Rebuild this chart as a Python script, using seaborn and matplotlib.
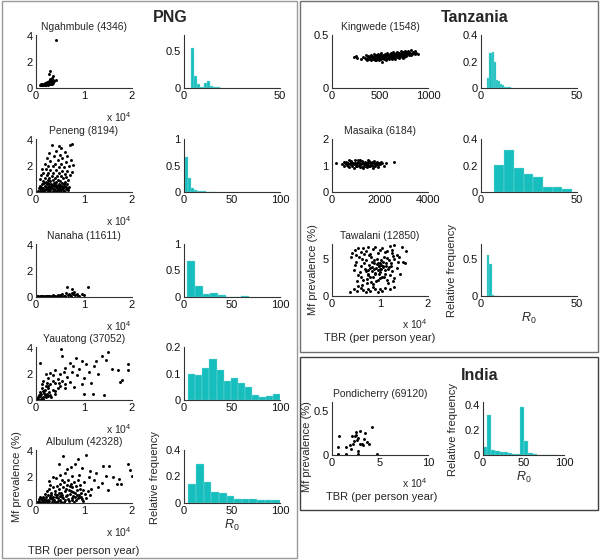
import numpy as np
import pandas as pd
import matplotlib
matplotlib.use("Agg")
import matplotlib.pyplot as plt
import seaborn as sns
from matplotlib.patches import Rectangle
from matplotlib.ticker import FuncFormatter

# ---------------- data ----------------
# scatter points: (TBR, Mf prevalence %) ; TBR in units of 1e4 unless noted
ngahmbule_pts = [(0.42,3.72),(0.30,1.30),(0.27,1.05),(0.36,0.95),(0.41,0.62),(0.33,0.78),(0.29,0.70),(0.35,0.60),(0.38,0.55),
    (0.08,0.25),(0.10,0.28),(0.12,0.26),(0.13,0.30),(0.15,0.27),(0.16,0.32),(0.17,0.29),(0.18,0.35),(0.19,0.30),(0.20,0.33),
    (0.21,0.28),(0.22,0.38),(0.23,0.31),(0.24,0.40),(0.25,0.35),(0.26,0.45),(0.27,0.38),(0.28,0.50),(0.29,0.42),(0.30,0.55),
    (0.31,0.40),(0.32,0.48),(0.33,0.36),(0.34,0.52),(0.24,0.30),(0.26,0.29),(0.28,0.33),(0.30,0.30),(0.32,0.33),(0.11,0.22),
    (0.14,0.24),(0.18,0.25),(0.21,0.24),(0.25,0.27),(0.29,0.60),(0.31,0.65),(0.27,0.58),(0.36,0.42),(0.34,0.30),(0.20,0.40),(0.23,0.45)]

peneng_pts = [(0.33,3.6),(0.47,3.55),(0.52,3.4),(0.76,3.75),(0.70,3.6),(0.42,3.2),(0.60,3.1),(0.28,3.0),(0.50,2.9),(0.65,2.8),
    (0.38,2.75),(0.22,2.6),(0.55,2.6),(0.45,2.5),(0.72,2.5),(0.30,2.4),(0.62,2.35),(0.18,2.2),(0.40,2.2),(0.52,2.15),(0.78,2.1),
    (0.25,2.05),(0.68,2.0),(0.35,2.0),(0.47,1.95),(0.58,1.9),
    (0.12,1.8),(0.20,1.75),(0.30,1.7),(0.42,1.7),(0.55,1.65),(0.65,1.6),(0.75,1.55),(0.15,1.5),(0.26,1.5),(0.36,1.45),(0.48,1.45),
    (0.60,1.4),(0.70,1.35),(0.10,1.3),(0.22,1.3),(0.33,1.25),(0.44,1.25),(0.52,1.2),(0.63,1.15),(0.18,1.1),(0.28,1.1),(0.39,1.05),
    (0.57,1.05),(0.08,1.0),(0.24,0.95),(0.35,0.95),(0.46,0.9),(0.66,0.9),(0.14,0.85),(0.30,0.85),(0.50,0.85),(0.41,0.8),(0.20,0.8),(0.60,0.78),
    (0.05,0.05),(0.08,0.1),(0.10,0.2),(0.12,0.05),(0.14,0.3),(0.16,0.12),(0.18,0.45),(0.20,0.2),(0.22,0.6),(0.24,0.08),(0.26,0.35),
    (0.28,0.5),(0.30,0.15),(0.32,0.65),(0.34,0.28),(0.36,0.05),(0.38,0.45),(0.40,0.18),(0.42,0.55),(0.44,0.3),(0.46,0.1),(0.48,0.62),
    (0.50,0.4),(0.52,0.2),(0.54,0.7),(0.56,0.35),(0.58,0.08),(0.60,0.5),(0.62,0.25),(0.64,0.6),(0.66,0.12),(0.68,0.4),(0.11,0.4),
    (0.13,0.6),(0.17,0.7),(0.19,0.02),(0.21,0.38),(0.23,0.25),(0.25,0.72),(0.27,0.15),(0.29,0.3),(0.31,0.45),(0.33,0.02),(0.35,0.55),
    (0.37,0.22),(0.39,0.68),(0.41,0.35),(0.43,0.05),(0.45,0.45),(0.47,0.25),(0.49,0.02),(0.51,0.58),(0.53,0.12),(0.55,0.48),(0.57,0.28),
    (0.59,0.65),(0.61,0.02),(0.63,0.38),(0.07,0.3),(0.09,0.5),(0.15,0.02),(0.27,0.6),(0.37,0.7),(0.47,0.45),(0.57,0.15),(0.67,0.3)]

nanaha_pts = [(0.02,0.05),(0.05,0.08),(0.08,0.04),(0.1,0.06),(0.13,0.1),(0.15,0.05),(0.18,0.07),(0.2,0.04),(0.23,0.09),(0.25,0.06),
    (0.28,0.05),(0.3,0.1),(0.33,0.07),(0.35,0.12),(0.38,0.05),(0.4,0.08),(0.43,0.06),(0.45,0.15),(0.48,0.07),(0.5,0.12),(0.53,0.05),
    (0.55,0.2),(0.58,0.08),(0.6,0.1),(0.62,0.3),(0.65,0.75),(0.66,0.15),(0.7,0.15),(0.72,0.1),(0.75,0.65),(0.78,0.2),(0.8,0.35),
    (0.82,0.12),(0.85,0.25),(0.88,0.1),(0.9,0.1),(0.95,0.2),(1.0,0.15),(1.08,0.75),(0.68,0.2),(0.74,0.3),(0.12,0.03),(0.03,0.03)]

yauatong_pts = [(0.08,2.85),(0.53,3.95),(0.55,3.4),(0.83,3.25),(0.95,3.0),(1.26,3.0),(1.37,3.4),(1.49,3.7),(1.46,3.1),(1.92,2.8),
    (1.92,2.3),(1.58,2.4),(1.70,2.35),(1.79,1.55),(1.2,2.6),(1.05,2.8),(0.7,2.9),(0.4,2.3),(0.6,2.5),(0.75,2.2),(0.9,2.4),(1.1,2.2),
    (1.3,2.0),(0.3,2.1),(0.2,2.0),(0.35,1.9),(0.5,2.0),(0.65,1.8),(0.85,1.9),(1.0,1.7),(0.25,1.7),(0.45,1.6),(0.55,1.5),(0.15,1.5),
    (0.4,1.3),(0.7,1.4),(0.95,1.2),(1.15,1.3),(0.3,1.2),(0.2,1.1),(0.5,1.1),(0.6,0.9),(0.35,0.8),(0.15,0.7),(0.25,0.9),(0.1,0.5),
    (0.18,0.4),(0.28,0.6),(0.4,0.5),(0.05,0.2),(0.08,0.3),(0.12,0.15),(0.15,0.25),(0.2,0.2),(0.22,0.5),(0.1,0.05),(0.05,0.05),
    (0.14,0.1),(0.25,0.3),(0.3,0.4),(0.18,0.8),(0.12,0.9),(0.06,0.4),(0.99,0.47),(1.18,0.47),(1.42,0.42),(1.75,1.4),(0.8,1.0),
    (0.45,0.95),(0.35,1.5),(0.22,1.3),(0.6,1.25),(0.09,0.6),(0.03,0.1),(0.16,0.55),(0.26,1.05),(0.32,0.25),(0.4,0.7),(0.48,1.35),
    (0.58,2.2),(0.78,2.6),(0.13,1.2)]

albulum_pts = [(0.57,3.6),(0.88,3.4),(1.04,3.7),(0.81,3.0),(1.40,2.85),(1.53,2.85),(1.92,3.0),(1.96,2.55),(2.0,2.1),(1.72,1.87),
    (1.69,1.47),(1.78,1.47),(1.37,1.52),(0.47,3.0),(0.65,2.6),(0.72,2.8),(0.95,2.7),(1.12,2.5),(1.25,2.3),(1.45,2.1),(1.6,2.0),
    (1.2,1.8),(1.1,2.0),(0.5,2.2),(0.6,2.3),(0.35,2.0),(0.42,1.9),(0.55,1.8),(0.75,2.1),(0.9,2.2),(1.0,1.6),(1.3,1.2),(1.5,1.0),
    (1.15,1.1),(0.98,1.0),(0.28,1.7),(0.3,1.4),
    (0.05,0.05),(0.08,0.1),(0.1,0.02),(0.12,0.2),(0.14,0.08),(0.16,0.3),(0.18,0.12),(0.2,0.45),(0.22,0.05),(0.24,0.25),(0.26,0.6),
    (0.28,0.15),(0.3,0.35),(0.32,0.8),(0.34,0.05),(0.36,0.5),(0.38,0.25),(0.4,0.9),(0.42,0.1),(0.44,0.6),(0.46,0.35),(0.48,1.1),
    (0.5,0.2),(0.52,0.75),(0.54,0.45),(0.56,1.25),(0.58,0.1),(0.6,0.9),(0.62,0.55),(0.64,1.4),(0.66,0.3),(0.68,1.0),(0.7,0.7),
    (0.72,1.5),(0.74,0.4),(0.76,1.2),(0.78,0.85),(0.8,1.6),(0.82,0.5),(0.84,1.3),(0.86,1.0),(0.88,1.75),(0.9,0.6),(0.92,1.4),
    (0.94,0.8),(0.96,0.3),(0.98,0.15),(0.15,0.5),(0.19,0.7),(0.23,0.9),(0.27,1.1),(0.31,0.6),(0.35,1.2),(0.39,0.7),(0.43,1.35),
    (0.47,0.8),(0.51,1.5),(0.55,0.6),(0.59,1.6),(0.63,1.1),(0.67,1.8),(0.71,1.3),(0.75,0.2),(0.79,0.1),(0.83,0.25),(0.87,0.35),
    (0.91,1.1),(0.11,0.35),(0.13,0.02),(0.17,0.05),(0.21,0.25),(0.25,0.08),(0.29,0.5),(0.33,0.3),(0.37,0.05),(0.41,0.45),(0.45,0.15),
    (0.49,0.55),(0.53,0.05),(0.57,0.35),(0.61,0.2),(0.65,0.65),(0.69,0.15),(0.73,0.95),(0.77,0.55),(0.81,0.75),(0.85,0.6),(0.89,0.45),
    (0.93,0.5),(1.02,0.7),(1.05,0.4),(1.08,0.9),(1.12,0.6),(0.06,0.3),(0.09,0.45),(0.07,0.15),(0.03,0.05)]

# Kingwede TBR in plain units
kingwede_pts = [(230,0.29),(245,0.30),(260,0.28),(300,0.27),(320,0.29),(340,0.28),(350,0.31),(360,0.26),(370,0.30),(380,0.28),
    (390,0.27),(395,0.30),(400,0.29),(405,0.26),(410,0.31),(415,0.28),(420,0.30),(425,0.27),(430,0.29),(435,0.32),(440,0.28),
    (445,0.26),(450,0.30),(455,0.29),(460,0.31),(465,0.27),(470,0.30),(475,0.28),(480,0.32),(485,0.26),(490,0.29),(495,0.31),
    (500,0.28),(505,0.30),(510,0.27),(515,0.33),(520,0.29),(525,0.25),(530,0.31),(535,0.28),(540,0.30),(545,0.27),(550,0.32),
    (555,0.29),(560,0.31),(565,0.26),(570,0.30),(575,0.33),(580,0.28),(585,0.31),(590,0.29),(595,0.27),(600,0.32),(605,0.30),
    (610,0.28),(615,0.33),(620,0.30),(625,0.27),(630,0.31),(635,0.29),(640,0.34),(645,0.28),(650,0.32),(655,0.30),(660,0.27),
    (665,0.33),(670,0.31),(675,0.29),(680,0.34),(685,0.30),(690,0.32),(695,0.28),(700,0.33),(705,0.31),(710,0.29),(715,0.35),
    (720,0.32),(725,0.30),(730,0.33),(735,0.28),(740,0.34),(745,0.31),(750,0.32),(755,0.29),(760,0.35),(765,0.33),(770,0.30),
    (775,0.34),(780,0.32),(790,0.35),(800,0.31),(810,0.33),(820,0.36),(830,0.32),(840,0.34),(850,0.33),(860,0.35),(880,0.33),
    (900,0.32),(420,0.285),(450,0.275),(480,0.295),(510,0.305),(540,0.285),(570,0.315),(600,0.295),(630,0.285),(660,0.315),
    (690,0.305),(720,0.31),(750,0.305),(780,0.33),(460,0.265),(500,0.315),(560,0.275),(620,0.32),(680,0.29),(740,0.3),(800,0.34),
    (380,0.295),(350,0.275),(820,0.31),(860,0.325)]

# Masaika TBR in plain units
masaika_pts = [(150,1.1),(420,1.05),(480,1.12),(520,0.98),(560,1.08),(600,1.15),(640,1.02),(680,1.1),(720,0.95),(760,1.06),
    (800,1.18),(840,1.0),(880,1.1),(920,1.04),(960,1.2),(1000,0.97),(1040,1.08),(1080,1.13),(1120,1.01),(1160,1.22),(1200,1.05),
    (1240,0.93),(1280,1.1),(1320,1.0),(1360,1.15),(1400,1.06),(1440,0.95),(1480,1.12),(1520,1.03),(1560,1.18),(1600,0.98),
    (1640,1.08),(1680,1.14),(1720,1.0),(1760,1.1),(1800,0.97),(1840,1.06),(1880,1.15),(1920,1.02),(1960,1.1),(2000,1.05),
    (2050,1.12),(2100,1.08),(2150,1.0),(2250,1.1),(2600,1.15),(700,1.2),(900,0.92),(1100,1.2),(1300,0.9),(1500,1.22),(1700,0.92),
    (650,1.0),(850,1.05),(1050,1.0),(1250,1.17),(1450,1.1),(1650,1.02),(1850,1.1),(950,1.1),(1150,0.96),(1350,1.05),(1550,1.0),
    (1750,1.17),(1900,0.95),(580,1.05),(780,1.12),(980,1.05),(1180,1.1),(1380,0.98),(1580,1.1),(1780,1.05)]

tawalani_pts = [(0.38,0.6),(0.45,1.0),(0.52,0.7),(0.6,1.1),(0.65,0.8),(0.7,0.5),(0.75,1.0),(0.8,0.7),(0.85,1.2),(0.9,0.9),
    (0.95,0.6),(1.0,1.0),(1.05,0.7),(1.1,1.1),(1.2,0.9),(1.3,1.2),(0.55,1.4),(0.42,5.8),(0.48,6.2),(0.5,5.5),(0.55,6.5),(0.6,5.9),
    (0.65,6.4),(0.7,6.0),(0.75,6.6),(0.8,5.7),(0.85,6.3),(0.9,6.6),(0.95,5.8),(1.0,6.2),(1.05,6.5),(1.1,5.9),(1.15,6.1),(1.2,6.7),
    (1.25,6.2),(1.3,6.8),(1.35,5.5),(1.45,6.6),(1.55,6.0),(1.48,4.6),(1.52,4.4),(1.4,5.2),(1.3,5.0),
    (0.45,3.5),(0.5,4.6),(0.55,2.8),(0.6,4.0),(0.62,5.0),(0.65,2.2),(0.68,3.6),(0.7,4.8),(0.72,1.8),(0.75,3.0),(0.77,4.2),
    (0.8,2.5),(0.82,5.2),(0.84,3.4),(0.86,1.6),(0.88,4.5),(0.9,2.9),(0.92,3.8),(0.94,5.0),(0.96,2.2),(0.98,4.1),(1.0,3.2),
    (1.02,4.8),(1.04,2.6),(1.06,3.9),(1.08,5.3),(1.1,3.0),(1.12,4.4),(1.14,2.1),(1.16,3.6),(1.18,4.9),(1.2,2.8),(1.22,4.0),
    (1.25,3.3),(1.28,5.4),(1.3,2.4),(1.35,3.8),(1.38,4.6),(1.42,3.0),(0.58,3.2),(0.66,4.4),(0.74,2.8),(0.78,5.5),(0.83,3.9),
    (0.87,4.9),(0.91,2.0),(0.95,4.4),(0.99,3.6),(1.03,4.2),(1.07,4.6),(1.11,3.5),(1.15,5.1),(1.19,3.9),(1.23,4.5),(0.53,2.0),
    (0.63,1.5),(0.73,2.3),(0.81,1.9),(0.89,3.1),(0.97,3.0),(1.01,2.4),(1.09,2.5),(1.17,1.8),(1.27,2.0),(0.47,4.2),(0.57,5.3),
    (0.67,5.6),(0.76,3.5),(0.84,4.6),(0.93,4.3),(1.03,3.7),(1.13,4.0),(0.7,3.3),(0.79,3.8),(0.88,3.6),(0.97,4.0),(1.06,4.1),
    (0.95,3.5),(1.0,4.5),(0.85,2.6),(0.6,2.6),(1.24,5.8),(0.4,5.2)]

pondicherry_pts = [(0.7,0.22),(0.63,0.09),(1.5,0.09),(1.85,0.11),(2.3,0.16),(2.1,0.21),(2.4,0.22),(2.7,0.19),(2.9,0.27),(3.4,0.25),
    (3.3,0.18),(3.6,0.15),(4.2,0.32),(2.9,0.13),(2.55,0.23),(2.7,0.05),(3.1,0.12),(2.2,0.12),(4.65,0.01),(0.6,0.01),(1.5,0.01),
    (2.7,0.01),(2.5,0.26),(3.2,0.11),(2.65,0.17),(2.0,0.07),(3.85,0.12)]

# R0 histograms: first bin edge, bin width, relative frequencies
ngahmbule_r0 = (3.4, 1.7, [0.55, 0.16, 0.056, 0.02, 0.07, 0.093, 0.023, 0.014, 0.01, 0.005])
peneng_r0 = (0.8, 3.1, [0.66, 0.26, 0.08, 0.03, 0.02, 0.015, 0.01, 0.006, 0.004, 0.002])
nanaha_r0 = (3.5, 8.0, [0.67, 0.20, 0.055, 0.07, 0.03, 0.005, 0.004, 0.025])
yauatong_r0 = (4.5, 7.35, [0.10, 0.093, 0.12, 0.154, 0.115, 0.07, 0.083, 0.066, 0.049, 0.018, 0.013, 0.014, 0.024])
albulum_r0 = (4.5, 7.96, [0.147, 0.293, 0.155, 0.085, 0.075, 0.053, 0.032, 0.027, 0.029, 0.019, 0.019, 0.021])
kingwede_r0 = (3.3, 1.1, [0.077, 0.266, 0.27, 0.193, 0.063, 0.05, 0.033, 0.022, 0.011, 0.006, 0.004, 0.002])
masaika_r0 = (7.0, 5.06, [0.205, 0.315, 0.179, 0.133, 0.115, 0.035, 0.035, 0.019])
tawalani_r0 = (3.1, 1.3, [0.555, 0.436, 0.015, 0.005, 0.002])
pondicherry_r0 = (0.0, 5.1, [0.06, 0.316, 0.042, 0.031, 0.026, 0.021, 0.016, 0.008, 0.005, 0.382, 0.112, 0.013,
                             0.004, 0.003, 0.002, 0.002, 0.003, 0.002])

site_titles = ["Ngahmbule (4346)", "Peneng (8194)", "Nanaha (11611)", "Yauatong (37052)", "Albulum (42328)",
               "Kingwede (1548)", "Masaika (6184)", "Tawalani (12850)", "Pondicherry (69120)"]
region_titles = ["PNG", "Tanzania", "India"]

# ---------------- style ----------------
sns.set_theme(style="white")
plt.rcParams["font.family"] = ["Liberation Sans", "DejaVu Sans"]
plt.rcParams["mathtext.fontset"] = "custom"
plt.rcParams["mathtext.rm"] = "Liberation Sans"
plt.rcParams["mathtext.it"] = "Liberation Sans:italic"

W, H = 600, 560
TEAL = "#17BEBE"
AX_COL = "#333333"
R0_LABEL = r"$\mathit{R}_{\mathit{0}}$"
fig = plt.figure(figsize=(6, 5.6), dpi=100)
fig.patch.set_facecolor("white")
fmt = FuncFormatter(lambda v, p: f"{v:g}")


def add_ax(x0, x1, top, bottom):
    return fig.add_axes([x0 / W, 1 - bottom / H, (x1 - x0) / W, (bottom - top) / H])


def style(ax, xlim, xticks, ylim, yticks):
    ax.set_xlim(xlim)
    ax.set_ylim(ylim)
    ax.set_xticks(xticks)
    ax.set_yticks(yticks)
    ax.xaxis.set_major_formatter(fmt)
    ax.yaxis.set_major_formatter(fmt)
    for s in ["top", "right"]:
        ax.spines[s].set_visible(False)
    for s in ["left", "bottom"]:
        ax.spines[s].set_color(AX_COL)
        ax.spines[s].set_linewidth(0.8)
    ax.tick_params(direction="in", length=2, width=0.6, labelsize=8, pad=2.5,
                   color=AX_COL, labelcolor="#111111")
    ax.set_xlabel("")
    ax.set_ylabel("")
    ax.set_facecolor("none")
    ax.grid(False)


def ftext(x, y, s, **kw):
    kw.setdefault("ha", "center")
    kw.setdefault("va", "center")
    fig.text(x / W, 1 - y / H, s, **kw)


def scatter_panel(pts, title, box, xlim, xticks, ylim, yticks):
    ax = add_ax(*box)
    df = pd.DataFrame(pts, columns=["tbr", "mf"])
    sns.scatterplot(data=df, x="tbr", y="mf", ax=ax, color="black", s=4.5, linewidth=0, legend=False)
    style(ax, xlim, xticks, ylim, yticks)
    ax.set_title(title, fontsize=7.5, pad=3.5)
    return ax


def hist_panel(spec, box, xlim, xticks, ylim, yticks):
    ax = add_ax(*box)
    start, width, freqs = spec
    n = len(freqs)
    edges = [float(start + width * k) for k in range(n + 1)]
    centers = [(edges[k] + edges[k + 1]) / 2 for k in range(n)]
    df = pd.DataFrame({"r0": centers, "freq": freqs})
    sns.histplot(data=df, x="r0", weights="freq", bins=edges, ax=ax, color=TEAL, alpha=1,
                 edgecolor="#8fdcdc", linewidth=0.25, stat="count")
    style(ax, xlim, xticks, ylim, yticks)
    return ax


# ---------------- PNG ----------------
png_tops = [35, 139, 244, 347, 450]
png_scatter = [ngahmbule_pts, peneng_pts, nanaha_pts, yauatong_pts, albulum_pts]
png_hist = [ngahmbule_r0, peneng_r0, nanaha_r0, yauatong_r0, albulum_r0]
png_hx = [((0, 50), [0, 50]), ((0, 100), [0, 50, 100]), ((0, 100), [0, 50, 100]),
          ((0, 100), [0, 50, 100]), ((0, 100), [0, 50, 100])]
png_hy = [((0, 0.72), [0, 0.5]), ((0, 1), [0, 0.5, 1]), ((0, 1), [0, 0.5, 1]),
          ((0, 0.2), [0, 0.1, 0.2]), ((0, 0.4), [0, 0.2, 0.4])]
for i, top in enumerate(png_tops):
    bot = top + 53
    scatter_panel(png_scatter[i], site_titles[i], (36, 132, top, bot), (0, 2), [0, 1, 2], (0, 4.1), [0, 2, 4])
    ftext(132, bot + 29, r"x 10$^{4}$", ha="right", fontsize=7.5)
    hist_panel(png_hist[i], (184, 280, top, bot), png_hx[i][0], png_hx[i][1], png_hy[i][0], png_hy[i][1])

ftext(17, 477, "Mf prevalence (%)", rotation=90, fontsize=8)
ftext(155, 477, "Relative frequency", rotation=90, fontsize=8)
ftext(84, 551, "TBR (per person year)", fontsize=8)
ftext(232, 525, R0_LABEL, fontsize=9)

# ---------------- Tanzania ----------------
scatter_panel(kingwede_pts, site_titles[5], (332, 428, 35, 88), (0, 1000), [0, 500, 1000], (0, 0.5), [0, 0.5])
hist_panel(kingwede_r0, (481, 577, 35, 88), (0, 50), [0, 50], (0, 0.4), [0, 0.2, 0.4])
scatter_panel(masaika_pts, site_titles[6], (332, 428, 139, 192), (0, 4000), [0, 2000, 4000], (0, 2), [0, 1, 2])
hist_panel(masaika_r0, (481, 577, 139, 192), (0, 50), [0, 50], (0, 0.4), [0, 0.2, 0.4])
scatter_panel(tawalani_pts, site_titles[7], (332, 428, 244, 296), (0, 2), [0, 1, 2], (0, 7), [0, 5])
hist_panel(tawalani_r0, (481, 577, 244, 296), (0, 50), [0, 50], (0, 0.7), [0, 0.5])
ftext(428, 324, r"x 10$^{4}$", ha="right", fontsize=7.5)
ftext(313, 270, "Mf prevalence (%)", rotation=90, fontsize=8)
ftext(452, 270, "Relative frequency", rotation=90, fontsize=8)
ftext(380, 338, "TBR (per person year)", fontsize=8)
ftext(529, 318, R0_LABEL, fontsize=9)

# ---------------- India ----------------
scatter_panel(pondicherry_pts, site_titles[8], (332, 428, 402, 455), (0, 10), [0, 5, 10], (0, 0.6), [0, 0.5])
hist_panel(pondicherry_r0, (483, 564, 402, 455), (0, 100), [0, 50, 100], (0, 0.42), [0, 0.2, 0.4])
ftext(428, 483, r"x 10$^{4}$", ha="right", fontsize=7.5)
ftext(307, 447, "Mf prevalence (%)", rotation=90, fontsize=8)
ftext(453, 429, "Relative frequency", rotation=90, fontsize=8)
ftext(382, 497, "TBR (per person year)", fontsize=8)
ftext(524, 477, R0_LABEL, fontsize=9)

# region titles
ftext(170, 18, region_titles[0], fontsize=11.5, fontweight="bold")
ftext(475, 18, region_titles[1], fontsize=11.5, fontweight="bold")
ftext(480, 375, region_titles[2], fontsize=11.5, fontweight="bold")

# panel frames
for (x0, y0, x1, y1, col) in [(2, 1, 297, 558, "#9a9a9a"), (300, 1, 598, 352, "#707070"), (300, 357, 598, 510, "#404040")]:
    fig.add_artist(Rectangle((x0 / W, 1 - y1 / H), (x1 - x0) / W, (y1 - y0) / H, transform=fig.transFigure,
                             fill=False, edgecolor=col, linewidth=1.0))

fig.savefig("out.png", dpi=100)
